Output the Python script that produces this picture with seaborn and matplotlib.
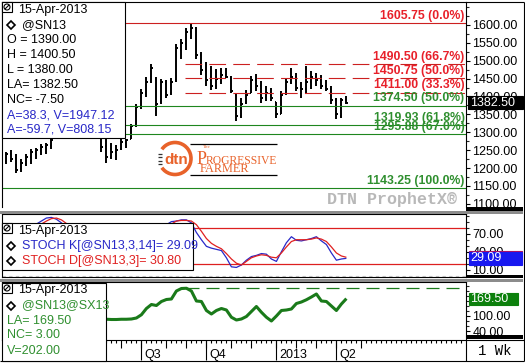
import numpy as np
import pandas as pd
import matplotlib
matplotlib.use("Agg")
import matplotlib.pyplot as plt
import matplotlib.dates as mdates
import matplotlib.transforms as mtrans
from matplotlib.patches import Rectangle, Circle, Arc
from matplotlib.ticker import FormatStrFormatter, MultipleLocator
import seaborn as sns

# ---------------- data (weekly bars, @SN13) ----------------
week_start = "2011-12-26"
n_weeks = 69

opens = [1220, 1240, 1228, 1198, 1212, 1230, 1240, 1248, 1258, 1262,
         1295, 1318, 1335, 1322, 1338, 1362, 1350, 1330, 1310, 1295,
         1262, 1232, 1245, 1252, 1270, 1282, 1320, 1372, 1410, 1442,
         1450, 1385, 1435, 1410, 1445, 1530, 1548, 1580, 1592, 1515,
         1470, 1445, 1430, 1450, 1460, 1452, 1405, 1345, 1382, 1410,
         1445, 1430, 1398, 1410, 1385, 1352, 1408, 1440, 1455, 1425,
         1420, 1440, 1455, 1445, 1430, 1420, 1390, 1345, 1390]
highs = [1245, 1250, 1238, 1224, 1240, 1252, 1256, 1266, 1270, 1282,
         1330, 1345, 1360, 1350, 1380, 1390, 1370, 1350, 1330, 1300,
         1285, 1270, 1265, 1280, 1282, 1322, 1378, 1420, 1455, 1492,
         1455, 1450, 1445, 1452, 1547, 1560, 1590, 1605.75, 1595, 1525,
         1495, 1485, 1476, 1479, 1479, 1457, 1410, 1395, 1418, 1457,
         1462, 1443, 1429, 1423, 1385, 1415, 1451, 1479, 1465, 1440,
         1485, 1470, 1465, 1460, 1445, 1430, 1395, 1395, 1400.5]
lows = [1212, 1218, 1186, 1190, 1205, 1210, 1226, 1236, 1240, 1252,
        1290, 1300, 1310, 1300, 1320, 1340, 1320, 1300, 1292, 1246,
        1214, 1225, 1222, 1250, 1255, 1280, 1316, 1365, 1398, 1437,
        1344, 1380, 1395, 1405, 1440, 1505, 1530, 1560, 1505, 1460,
        1430, 1418, 1420, 1434, 1451, 1409, 1330, 1339, 1378, 1409,
        1415, 1381, 1387, 1387, 1339, 1350, 1405, 1434, 1415, 1395,
        1410, 1420, 1430, 1420, 1415, 1380, 1336, 1340, 1380]
closes = [1238, 1225, 1195, 1215, 1232, 1245, 1250, 1260, 1265, 1278,
          1320, 1335, 1320, 1340, 1365, 1350, 1330, 1310, 1300, 1260,
          1230, 1245, 1250, 1272, 1278, 1318, 1370, 1410, 1440, 1480,
          1380, 1440, 1405, 1440, 1535, 1550, 1580, 1590, 1515, 1475,
          1445, 1430, 1450, 1460, 1455, 1415, 1345, 1380, 1405, 1445,
          1430, 1395, 1410, 1395, 1350, 1405, 1440, 1455, 1425, 1420,
          1440, 1455, 1445, 1430, 1420, 1390, 1350, 1390, 1382.5]

stoch_k = [45, 58, 50, 60, 72, 80, 86, 91, 96, 97, 94, 88, 80, 70, 62, 55, 48, 40,
           35, 28, 20, 24, 33, 45, 55, 66, 75, 80, 84, 86, 78, 76, 85, 90,
           91, 93, 93, 88, 72, 60, 49, 46, 44, 42, 30, 15, 14, 18, 26, 32, 34,
           37, 36, 28, 24, 40, 55, 65, 59, 58, 60, 62, 65, 58, 52, 38, 26, 28, 29.09]
stoch_d = [50, 52, 54, 56, 61, 71, 79, 86, 91, 95, 96, 93, 87, 79, 71, 62, 55, 48,
           41, 34, 28, 24, 26, 34, 44, 55, 65, 74, 80, 83, 83, 80, 80, 86,
           91, 92, 92, 91, 85, 74, 62, 54, 49, 45, 37, 28, 21, 18, 24, 30, 33,
           35, 34, 31, 30, 38, 48, 57, 60, 60, 60, 61, 63, 61, 57, 48, 38, 33, 30.80]
spread = [80, 82, 85, 84, 86, 88, 90, 92, 95, 98, 100, 102, 100, 98, 95, 92, 90, 88,
          87, 86, 87, 86, 86, 87, 87, 88, 92, 105, 130, 146, 142, 158, 166, 168,
          200, 210, 211, 200, 160, 158, 122, 108, 122, 130, 124, 95, 84, 88, 98,
          118, 138, 115, 95, 80, 100, 122, 124, 128, 150, 156, 165, 176, 188, 160,
          158, 140, 122, 148, 169.5]

fib_levels = [1605.75, 1490.50, 1450.75, 1411.00, 1374.50, 1319.93, 1295.88, 1143.25]
fib_labels = ["1605.75 (0.0%)", "1490.50 (66.7%)", "1450.75 (50.0%)", "1411.00 (33.3%)",
              "1374.50 (50.0%)", "1319.93 (61.8%)", "1295.88 (67.0%)", "1143.25 (100.0%)"]
fib_kind = ["red", "red_dash", "red_dash", "red_dash", "green", "green", "green", "green"]

price_ticks = [1100, 1150, 1200, 1250, 1300, 1350, 1400, 1450, 1500, 1550, 1600]
stoch_ticks = [10, 40, 70]
stoch_bands = [20, 80]
spread_ticks = [40, 100]

quarter_dates = ["2012-01-02", "2012-04-02", "2012-07-02", "2012-10-01", "2013-01-07", "2013-04-01"]
quarter_labels = ["", "", "Q3", "Q4", "2013", "Q2"]

main_legend = ["O = 1390.00", "H = 1400.50", "L = 1380.00", "LA= 1382.50", "NC= -7.50"]
main_legend_blue = ["A=38.3, V=1947.12", "A=-59.7, V=808.15"]
spread_legend = ["LA= 169.50", "NC= 3.00", "V=202.00"]
last_price = 1382.50
last_k = 29.09
last_d = 30.80
last_spread = 169.50

# ---------------- style ----------------
sns.set_style("white")
plt.rcParams["font.family"] = ["Liberation Sans", "DejaVu Sans"]
plt.rcParams["lines.solid_capstyle"] = "butt"

RED_LINE = "#cc2020"
RED_TXT = "#e8202a"
GREEN_LINE = "#1e861e"
GREEN_TXT = "#2f8f2f"
BLUE = "#2828c8"
ORANGE = "#e8622a"

W, H = 525, 364
fig = plt.figure(figsize=(W / 100, H / 100), dpi=100)
fig.patch.set_facecolor("white")


def add_ax(l, t, r, b):
    return fig.add_axes([l / W, 1 - b / H, (r - l) / W, (b - t) / H])


ax_p = add_ax(2, 2, 466, 207)
ax_s = add_ax(2, 214, 466, 277)
ax_v = add_ax(2, 282, 466, 340)

dates = pd.date_range(week_start, periods=n_weeks, freq="7D")
xd = mdates.date2num(dates)
PXD = 5 / 7.0
x_ref = mdates.date2num(pd.Timestamp("2012-07-02"))
x0 = x_ref - (141.4 - 2) / PXD
x1 = x0 + 464 / PXD

for ax in (ax_p, ax_s, ax_v):
    ax.set_xlim(x0, x1)
    ax.yaxis.tick_right()
    ax.tick_params(axis="y", which="major", right=True, left=False, labelright=True,
                   labelleft=False, direction="out", length=3.2, width=0.8,
                   labelsize=9, pad=1.5, colors="black")
    ax.tick_params(axis="y", which="minor", right=True, left=False, direction="out",
                   length=1.8, width=0.8)
    for sp in ax.spines.values():
        sp.set_color("black")
        sp.set_linewidth(0.8)
    ax.set_facecolor("white")

# ---------------- price panel ----------------
ax = ax_p
ax.vlines(xd, lows, highs, color="black", lw=1.4)
ax.hlines(opens, xd - 2.6, xd, color="black", lw=1.4)
ax.hlines(closes, xd, xd + 2.6, color="black", lw=1.4)

blend = mtrans.blended_transform_factory(ax.transAxes, ax.transData)
lab_tr = mtrans.offset_copy(blend, fig=fig, x=-1.0, y=3.0, units="points")
dash_start = xd[36] - 1.5
for lvl, lab, kind in zip(fib_levels, fib_labels, fib_kind):
    if kind == "red":
        ax.axhline(lvl, color=RED_LINE, lw=0.8)
        col = RED_TXT
    elif kind == "red_dash":
        ax.hlines(lvl, dash_start, x1, color=RED_LINE, lw=0.8, linestyles=(0, (15, 6.5)))
        col = RED_TXT
    else:
        ax.axhline(lvl, color=GREEN_LINE, lw=0.8)
        col = GREEN_TXT
    ax.text(1.0, lvl, lab, transform=lab_tr, ha="right", va="baseline",
            fontsize=8.8, fontweight="bold", color=col, zorder=5)

ax.set_ylim(1091, 1664)
ax.set_yticks(price_ticks)
ax.yaxis.set_major_formatter(FormatStrFormatter("%.2f"))
ax.yaxis.set_minor_locator(MultipleLocator(25))
ax.tick_params(axis="x", bottom=False, labelbottom=False)
ax.spines["bottom"].set_visible(False)

ax.text(457 / 466.0, 0.013, "DTN ProphetX\u00ae", transform=ax.transAxes, ha="right",
        va="baseline", fontsize=12, fontweight="bold", color="#b8b8b8",
        family=["Liberation Mono", "DejaVu Sans Mono"])

# ---------------- stochastic panel ----------------
ax = ax_s
for b in stoch_bands:
    ax.axhline(b, color="#dd2020", lw=0.9)
ax.axhline(0, color="#c8c8c8", lw=0.8, ls=(0, (3, 3)))
sns.lineplot(x=xd, y=stoch_k, ax=ax, color=BLUE, lw=0.9)
sns.lineplot(x=xd, y=stoch_d, ax=ax, color="#e02020", lw=0.9)
ax.set_ylim(-1.9, 102.7)
ax.set_yticks(stoch_ticks)
ax.yaxis.set_major_formatter(FormatStrFormatter("%.2f"))
ax.yaxis.set_minor_locator(MultipleLocator(10))
ax.tick_params(axis="x", bottom=False, labelbottom=False)
ax.set_xlabel("")
ax.set_ylabel("")

# ---------------- spread panel ----------------
ax = ax_v
sns.lineplot(x=xd, y=spread, ax=ax, color="#1a7a1a", lw=2.2)
imax = int(np.argmax(spread))
ax.hlines(spread[imax], xd[imax], x1, color="#1a7a1a", lw=0.9, linestyles=(0, (10.4, 5.6)))
ax.set_ylim(4, 236)
ax.set_yticks(spread_ticks)
ax.yaxis.set_major_formatter(FormatStrFormatter("%.2f"))
ax.yaxis.set_minor_locator(MultipleLocator(20))
ax.set_xlabel("")
ax.set_ylabel("")

weekly = mdates.date2num(pd.date_range("2011-12-19", "2013-09-30", freq="W-MON"))
monthly = mdates.date2num(pd.date_range("2011-12-01", "2013-05-31", freq="WOM-1MON"))
ax.set_xticks(monthly)
ax.set_xticks(weekly, minor=True)
ax.set_xlim(x0, x1)
ax.tick_params(axis="x", which="major", bottom=True, direction="out", length=5.8,
               width=0.8, labelbottom=False, colors="black")
ax.tick_params(axis="x", which="minor", bottom=True, direction="out", length=2.2,
               width=0.8, colors="black")
xb = mtrans.blended_transform_factory(ax.transData, ax.transAxes)
qx = mdates.date2num(pd.to_datetime(quarter_dates))
ax.vlines(qx, -20 / 58.0, 0, transform=xb, clip_on=False, color="black", lw=0.8)
q_tr = mtrans.offset_copy(xb, fig=fig, x=2.0, y=-10.6, units="points")
for q, lab in zip(qx, quarter_labels):
    if lab:
        ax.text(q, 0, lab, transform=q_tr, ha="left", va="center", fontsize=9,
                color="black", clip_on=False)

# ---------------- overlay (frames, legends, boxes) ----------------
ov = fig.add_axes([0, 0, 1, 1], zorder=10)
ov.set_xlim(0, W)
ov.set_ylim(H, 0)
ov.axis("off")
ov.patch.set_alpha(0)


def rect(x, y, w, h, fc="white", ec="black", lw=0.8, z=2):
    ov.add_patch(Rectangle((x, y), w, h, facecolor=fc, edgecolor=ec, linewidth=lw, zorder=z))


def seg(xa, ya, xb_, yb, color="black", lw=0.8, z=3):
    ov.plot([xa, xb_], [ya, yb], color=color, lw=lw, solid_capstyle="butt", zorder=z)


def py(ax_, val):
    return H - ax_.transData.transform((ax_.get_xlim()[0], val))[1]


# separators
rect(466, 206.5, 57, 4, fc="black", ec="none", z=4)
rect(0, 211, 523, 2.5, fc="#8c8c8c", ec="none", z=4)
rect(466, 274.5, 57, 3.5, fc="black", ec="none", z=4)
rect(0, 279, 523, 2.5, fc="#8c8c8c", ec="none", z=4)
rect(466, 334.5, 57, 4, fc="black", ec="none", z=4)
# outer frame
seg(466, 2, 523.5, 2)
seg(523.5, 1.5, 523.5, 361)
seg(0, 360.5, 524, 360.5)
seg(466, 340, 523.5, 340)
seg(466, 340, 466, 361)
ov.text(495, 351, "1 Wk", ha="center", va="center", fontsize=10, color="black",
        family=["Liberation Mono", "DejaVu Sans Mono"])


def icon(x, y):
    rect(x, y, 10, 10, fc="white", ec="black", lw=0.8, z=6)
    ov.add_patch(Circle((x + 5, y + 5), 3.0, fill=False, ec="black", lw=0.8, zorder=7))
    seg(x + 2.8, y + 7.2, x + 7.2, y + 2.8, lw=0.8, z=7)


def diamond(x, y):
    ov.plot([x], [y], marker="D", ms=4.2, mfc="white", mec="black", mew=1.2, zorder=7)


# main legend
rect(2, 2, 123, 136, z=5)
icon(2, 2)
ov.text(18, 9.5, "15-Apr-2013", va="center", fontsize=9, color="black", zorder=7)
diamond(11, 25)
ov.text(22, 25, "@SN13", va="center", fontsize=9, color="black", zorder=7)
for k, s in enumerate(main_legend):
    ov.text(7, 40 + 15 * k, s, va="center", fontsize=9, color="black", zorder=7)
for k, s in enumerate(main_legend_blue):
    ov.text(7, 115 + 14.5 * k, s, va="center", fontsize=9, color=BLUE, zorder=7)

# stoch legend
rect(2, 223, 191, 47, z=5)
icon(2, 223)
ov.text(18, 231, "15-Apr-2013", va="center", fontsize=9, color="black", zorder=7)
diamond(11, 245.5)
ov.text(22, 245.5, "STOCH K[@SN13,3,14]= 29.09", va="center", fontsize=9, color=BLUE, zorder=7)
diamond(11, 261)
ov.text(22, 261, "STOCH D[@SN13,3]= 30.80", va="center", fontsize=9, color="#e02020", zorder=7)

# spread legend
rect(2, 283, 104, 77.5, z=5)
icon(2, 283)
ov.text(18, 290.5, "15-Apr-2013", va="center", fontsize=9, color="black", zorder=7)
diamond(11, 305.5)
ov.text(22, 305.5, "@SN13@SX13", va="center", fontsize=9, color=GREEN_TXT, zorder=7)
for k, s in enumerate(spread_legend):
    ov.text(7, 320.5 + 15 * k, s, va="center", fontsize=9, color=GREEN_TXT, zorder=7)

# right-axis value boxes
yp = py(ax_p, last_price)
rect(468, yp - 6.5, 54.5, 13, fc="black", ec="black", z=6)
ov.text(470, yp, "%.2f" % last_price, va="center", fontsize=9, color="white", zorder=7)
yd = py(ax_s, last_d)
rect(468.5, yd - 6.5, 53.5, 13, fc="#e02020", ec="#b01060", z=6)
yk = py(ax_s, last_k)
rect(468.5, yk - 6.0, 53.5, 12.5, fc="#1818f0", ec="#1818f0", z=6)
ov.text(470.5, yk, "%.2f" % last_k, va="center", fontsize=9, color="white", zorder=7)
yv = py(ax_v, last_spread)
rect(468.5, yv - 6.0, 49, 12.5, fc="#0c800c", ec="#0c800c", z=6)
ov.text(470.5, yv, "%.2f" % last_spread, va="center", fontsize=9, color="white", zorder=7)

# DTN / Progressive Farmer logo
ov.add_patch(Arc((175, 158.5), 32, 32, theta1=-145, theta2=145, color=ORANGE, lw=2.6, zorder=6))
for dy in (-5, -1.5, 2, 5.5):
    seg(157.5, 158.5 + dy, 161.5, 158.5 + dy, color="#333333", lw=0.9, z=6)
ov.text(176.5, 159.5, "dtn", ha="center", va="center", fontsize=11, fontweight="bold",
        color=ORANGE, zorder=7)
seg(190, 143.5, 277, 143.5, lw=0.9, z=6)
seg(190, 174.5, 277, 174.5, lw=0.9, z=6)
serif = ["Liberation Serif", "DejaVu Serif"]
ov.text(203, 147.5, "The", ha="left", va="center", fontsize=3.5, color=ORANGE, family=serif, zorder=7)
ov.text(196.5, 164.5, "P", ha="left", va="baseline", fontsize=13, color=ORANGE, family=serif, zorder=7)
ov.text(206, 164.5, "ROGRESSIVE", ha="left", va="baseline", fontsize=8.4, color=ORANGE, family=serif, zorder=7)
ov.text(200, 172.5, "FARMER", ha="left", va="baseline", fontsize=8.8, color=ORANGE, family=serif, zorder=7)

fig.savefig("out.png", dpi=100, facecolor="white")
